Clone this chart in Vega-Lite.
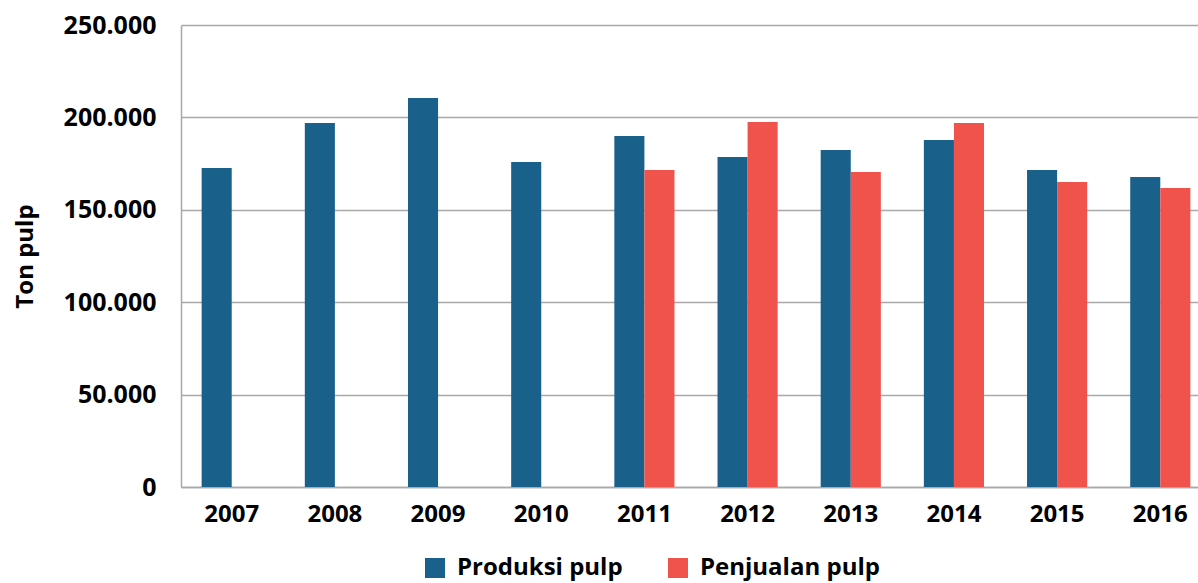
{
  "$schema": "https://vega.github.io/schema/vega-lite/v6.json",
  "width": 1017,
  "height": 462,
  "autosize": {"type": "none"},
  "padding": {"left": 181, "top": 25, "right": 0, "bottom": 96},
  "background": "white",
  "config": {
    "font": "Open Sans",
    "view": {"stroke": null},
    "axis": {"labelFont": "Open Sans", "labelFontWeight": "bold", "labelColor": "#000000", "titleFont": "Open Sans", "titleFontWeight": "bold", "titleColor": "#000000"}
  },
  "data": {
    "values": [
      {"year": "2007", "series": "Produksi pulp", "value": 172600},
      {"year": "2008", "series": "Produksi pulp", "value": 197000},
      {"year": "2009", "series": "Produksi pulp", "value": 210500},
      {"year": "2010", "series": "Produksi pulp", "value": 175900},
      {"year": "2011", "series": "Produksi pulp", "value": 190000},
      {"year": "2011", "series": "Penjualan pulp", "value": 171600},
      {"year": "2012", "series": "Produksi pulp", "value": 178600},
      {"year": "2012", "series": "Penjualan pulp", "value": 197500},
      {"year": "2013", "series": "Produksi pulp", "value": 182400},
      {"year": "2013", "series": "Penjualan pulp", "value": 170500},
      {"year": "2014", "series": "Produksi pulp", "value": 187800},
      {"year": "2014", "series": "Penjualan pulp", "value": 197000},
      {"year": "2015", "series": "Produksi pulp", "value": 171600},
      {"year": "2015", "series": "Penjualan pulp", "value": 165100},
      {"year": "2016", "series": "Produksi pulp", "value": 167800},
      {"year": "2016", "series": "Penjualan pulp", "value": 161800}
    ]
  },
  "mark": {"type": "bar"},
  "encoding": {
    "x": {
      "field": "year", "type": "nominal",
      "scale": {"range": [0, 1030], "paddingInner": 0.417, "paddingOuter": 0.2},
      "axis": {"title": null, "labelAngle": 0, "labelFontSize": 24, "labelPadding": 15, "ticks": false, "domainColor": "#a9a9a9", "domainWidth": 1.5, "grid": false}
    },
    "xOffset": {"field": "series", "type": "nominal", "sort": ["Produksi pulp", "Penjualan pulp"]},
    "y": {
      "field": "value", "type": "quantitative",
      "scale": {"domain": [0, 250000], "nice": false},
      "axis": {
        "title": "Ton pulp", "titleFontSize": 24, "titlePadding": 26,
        "values": [0, 50000, 100000, 150000, 200000, 250000],
        "labelExpr": "replace(format(datum.value, ','), ',', '.')",
        "labelFontSize": 25, "labelPadding": 25, "ticks": false,
        "domainColor": "#a9a9a9", "domainWidth": 1.5,
        "gridColor": "#a9a9a9", "gridWidth": 1.5
      }
    },
    "color": {
      "field": "series", "type": "nominal",
      "scale": {"domain": ["Produksi pulp", "Penjualan pulp"], "range": ["#19618A", "#F0534C"]},
      "legend": {
        "title": null, "orient": "none", "legendX": 242, "legendY": 531,
        "direction": "horizontal", "symbolType": "square", "symbolSize": 400,
        "symbolStrokeWidth": 0, "symbolOpacity": 1,
        "labelFont": "Open Sans", "labelFontWeight": "bold", "labelFontSize": 24, "labelColor": "#000000",
        "labelLimit": 400, "labelOffset": 10, "columnPadding": 43
      }
    }
  }
}
